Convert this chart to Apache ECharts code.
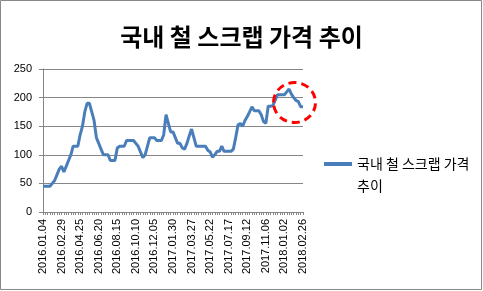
<!DOCTYPE html>
<html>
<head>
<meta charset="utf-8">
<script src="https://cdn.jsdelivr.net/npm/echarts@6/dist/echarts.min.js"></script>
<style>
  html, body { margin: 0; padding: 0; background: #fff; }
  #chart { width: 483px; height: 291px; }
</style>
</head>
<body>
<div id="chart"></div>
<script>
// 주간 날짜 (라벨은 8주마다 표시)
var dates = [
  '2016.01.04','2016.01.11','2016.01.18','2016.01.25','2016.02.01','2016.02.08','2016.02.15','2016.02.22',
  '2016.02.29','2016.03.07','2016.03.14','2016.03.21','2016.03.28','2016.04.04','2016.04.11','2016.04.18',
  '2016.04.25','2016.05.02','2016.05.09','2016.05.16','2016.05.23','2016.05.30','2016.06.06','2016.06.13',
  '2016.06.20','2016.06.27','2016.07.04','2016.07.11','2016.07.18','2016.07.25','2016.08.01','2016.08.08',
  '2016.08.15','2016.08.22','2016.08.29','2016.09.05','2016.09.12','2016.09.19','2016.09.26','2016.10.03',
  '2016.10.10','2016.10.17','2016.10.24','2016.10.31','2016.11.07','2016.11.14','2016.11.21','2016.11.28',
  '2016.12.05','2016.12.12','2016.12.19','2016.12.26','2017.01.02','2017.01.09','2017.01.16','2017.01.23',
  '2017.01.30','2017.02.06','2017.02.13','2017.02.20','2017.02.27','2017.03.06','2017.03.13','2017.03.20',
  '2017.03.27','2017.04.03','2017.04.10','2017.04.17','2017.04.24','2017.05.01','2017.05.08','2017.05.15',
  '2017.05.22','2017.05.29','2017.06.05','2017.06.12','2017.06.19','2017.06.26','2017.07.03','2017.07.10',
  '2017.07.17','2017.07.24','2017.07.31','2017.08.07','2017.08.14','2017.08.21','2017.08.28','2017.09.04',
  '2017.09.12','2017.09.18','2017.09.25','2017.10.02','2017.10.10','2017.10.16','2017.10.23','2017.10.30',
  '2017.11.06','2017.11.13','2017.11.20','2017.11.27','2017.12.04','2017.12.11','2017.12.18','2017.12.26',
  '2018.01.02','2018.01.08','2018.01.15','2018.01.22','2018.01.29','2018.02.05','2018.02.12','2018.02.19',
  '2018.02.26'
];

// 국내 철 스크랩 가격
var prices = [
  45, 45, 45, 45, 50, 55, 65, 75,
  80, 70, 80, 90, 100, 115, 115, 115,
  135, 150, 175, 190, 190, 175, 160, 130,
  120, 110, 100, 100, 100, 90, 90, 90,
  112, 115, 115, 115, 125, 125, 125, 125,
  120, 115, 105, 95, 100, 115, 130, 130,
  130, 125, 125, 125, 135, 170, 155, 140,
  140, 130, 120, 120, 112, 110, 120, 133,
  145, 130, 115, 115, 115, 115, 115, 108,
  105, 96, 100, 106, 106, 115, 106, 106,
  106, 106, 110, 130, 152, 155, 150, 160,
  167, 175, 184, 177, 177, 177, 170, 158,
  155, 185, 185, 186, 195, 205, 205, 205,
  205, 210, 215, 206, 200, 195, 193, 184,
  184
];

var seriesName = '국내 철 스크랩 가격 추이';
var titleText = '국내 철 스크랩 가격 추이';

var myChart = echarts.init(document.getElementById('chart'));

var option = {
  animation: false,
  title: {
    text: titleText,
    left: 'center',
    top: 20,
    textStyle: {
      fontFamily: 'Noto Sans CJK KR',
      fontSize: 24,
      fontWeight: 'bold',
      color: '#000'
    }
  },
  grid: {
    left: 43,
    right: 180,
    top: 69,
    bottom: 79,
    containLabel: false
  },
  legend: {
    data: [seriesName],
    left: 319,
    top: 126,
    icon: 'rect',
    itemWidth: 28,
    itemHeight: 4,
    formatter: function () {
      // 빈 줄을 앞에 넣어서 아이콘이 첫 줄에 오도록
      return '\n국내 철 스크랩 가격\n추이';
    },
    textStyle: {
      fontFamily: 'Noto Sans CJK KR',
      fontSize: 14,
      lineHeight: 22,
      color: '#000'
    }
  },
  xAxis: {
    type: 'category',
    data: dates,
    boundaryGap: false,
    axisLine: { lineStyle: { color: '#868686', width: 1 } },
    axisTick: { show: true, interval: 0, length: 3, lineStyle: { color: '#868686' } },
    axisLabel: {
      interval: 7,
      rotate: 90,
      fontFamily: 'Liberation Sans',
      fontSize: 11,
      color: '#000',
      margin: 7
    },
    splitLine: { show: false }
  },
  yAxis: {
    type: 'value',
    min: 0,
    max: 250,
    interval: 50,
    axisLine: { show: true, lineStyle: { color: '#868686', width: 1 } },
    axisTick: { show: true, length: 4, lineStyle: { color: '#868686' } },
    axisLabel: {
      fontFamily: 'Liberation Sans',
      fontSize: 11,
      color: '#000',
      margin: 11
    },
    splitLine: { show: true, lineStyle: { color: '#868686', width: 1 } }
  },
  series: [
    {
      name: seriesName,
      type: 'line',
      data: prices,
      symbol: 'none',
      lineStyle: { color: '#4a7ebb', width: 3 },
      itemStyle: { color: '#4a7ebb' }
    }
  ],
  graphic: [
    {
      type: 'rect',
      shape: { x: 0.5, y: 0.5, width: 481, height: 289 },
      style: { fill: 'none', stroke: '#888', lineWidth: 1 },
      silent: true
    },
    {
      // 빨간 점선 원 (강조 표시)
      type: 'ellipse',
      shape: { cx: 294.5, cy: 102.5, rx: 21, ry: 20 },
      style: { fill: 'none', stroke: '#ff0000', lineWidth: 3, lineDash: [8, 5] },
      z: 100,
      silent: true
    }
  ]
};

myChart.setOption(option);
</script>
</body>
</html>
